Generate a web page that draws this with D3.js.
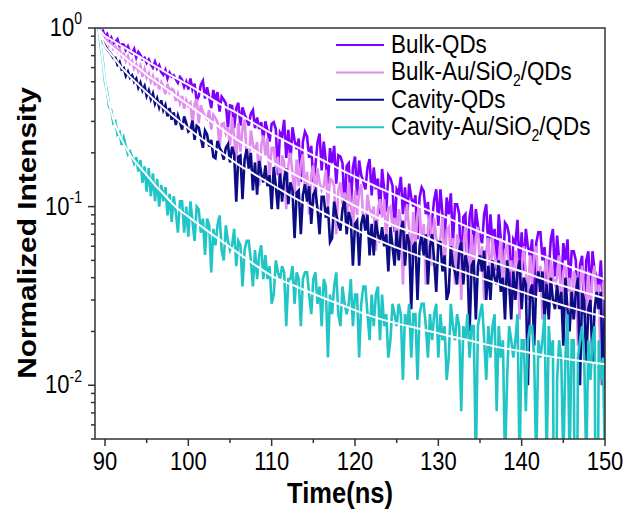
<!DOCTYPE html>
<html>
<head>
<meta charset="utf-8">
<script src="https://cdn.jsdelivr.net/npm/d3@7"></script>
<style>
  body { margin: 0; background: #fff; }
  svg text { font-family: "Liberation Sans", Arial, sans-serif; fill: #000; }
</style>
</head>
<body>
<svg id="chart" width="628" height="509"></svg>
<script>
// ---- series definitions ----
const seriesNames = ["Bulk-QDs", "Bulk-Au/SiO2/QDs", "Cavity-QDs", "Cavity-Au/SiO2/QDs"];
const seriesColors = ["#8000ff", "#e08cf0", "#0c0c86", "#22c5c5"];

// TCSPC histograms: photon counts per 0.25 ns bin, first bin at 89.25 ns
const startTime = 89.25;
const binWidth = 0.25;

const bulkQDsCounts = [
  320,302,309,286, 296,271,283,262, 268,277,252,259, 258,241,253,236, 231,244,219,235,
  226,214,218,204, 213,200,192,207, 190,198,181,175, 186,167,180,171, 174,165,158,170,
  164,150,160,145,
  167,145,156,125, 133,154,162,129, 149,131,114,144, 125,140,109,132, 127,121,89,118,
  117,88,114,122, 91,115,105,99, 91,106,111,88, 101,87,95,76, 96,85,74,93,
  95,87,48,83, 79,98,60,86, 57,89,75,67, 77,44,74,84, 79,60,70,44,
  54,73,82,51, 74,57,43,68, 56,70,43,62, 61,56,31,54, 56,32,53,61,
  37,58,48,44, 40,53,59,37, 53,40,46,29, 52,40,30,48, 46,42,23,40,
  38,47,29,41, 27,43,36,32, 37,21,36,41, 39,29,34,22, 27,35,40,25,
  40,29,20,36, 29,38,20,33, 33,29,13,28, 29,14,28,33, 18,31,25,22,
  20,29,33,18, 29,20,24,14, 29,21,14,26, 25,22,10,21, 20,27,14,23,
  14,24,19,17, 21,10,20,23, 23,16,19,11, 14,21,24,13, 22,16,11,20,
  16,21,11,18, 18,16,7,15, 17,8,16,18, 10,18,14,13, 11,16,9,3
];

const bulkAuCounts = [
  300,281,268,251, 262,240,249,229, 236,221,229,208, 215,196,208,190, 197,178,188,172,
  184,160,176,158, 167,150,161,143, 158,136,149,141, 128,146,131,137, 134,117,128,114,
  125,106,118,110,
  114,87,112,120, 88,111,101,96, 93,104,81,98, 94,89,65,87, 88,77,83,66,
  95,73,55,88, 61,82,92,58, 51,80,67,61, 69,39,66,75, 58,72,44,64,
  64,49,57,36, 58,53,29,51, 60,46,35,55, 39,52,59,37, 47,27,45,51,
  31,49,41,37, 39,48,30,43, 42,39,21,37, 41,31,36,23, 41,31,23,37,
  27,36,40,25, 22,35,29,27, 30,17,29,33, 26,33,20,29, 30,23,26,17,
  29,25,11,24, 31,22,15,28, 18,27,31,17, 24,11,23,27, 14,26,20,18,
  20,26,14,22, 23,16,20,11, 21,19,9,18, 23,16,11,21, 14,20,23,13,
  18,9,17,20, 11,20,16,14, 15,20,11,17, 18,13,15,9, 17,15,7,14,
  18,13,9,16, 11,16,18,10, 14,7,13,16, 9,15,12,11, 12,16,8,13,
  14,10,12,7, 13,12,5,11, 14,10,7,13, 8,12,14,8, 11,3,11,12
];

const cavityQDsCounts = [
  300,262,251,240, 229,221,214,204, 204,187,194,176, 179,162,171,158, 163,150,156,139,
  148,134,142,125, 134,120,129,113, 121,108,118,104, 111,96,107,92, 101,86,97,89,
  81,96,88,79,
  81,91,71,85, 83,73,64,80, 76,65,71,57, 56,70,64,61, 55,64,67,53,
  65,59,32,57, 58,33,55,63, 49,60,37,53, 35,54,46,41, 51,39,45,29,
  50,39,29,46, 32,43,49,31, 41,37,20,36, 37,21,35,40, 32,39,24,35,
  37,29,21,34, 34,26,30,19, 20,32,27,24, 22,29,33,21, 28,25,14,24,
  25,14,24,27, 22,27,16,24, 16,25,21,19, 23,18,21,13, 23,18,14,22,
  15,22,25,14, 21,19,8,18, 19,9,18,21, 16,21,11,18, 21,15,10,19,
  19,13,16,9, 10,18,14,13, 11,17,19,11, 16,14,6,14, 15,7,14,16,
  13,17,9,14, 9,15,12,11, 15,10,12,7, 15,11,7,13, 9,13,15,8,
  12,11,3,10, 11,5,11,13, 10,13,7,11, 7,12,9,8, 11,8,10,5,
  12,8,6,10, 7,10,12,3, 10,9,4,8, 9,4,8,10, 8,10,3,9
];

const cavityAuCounts = [
  280,219,181,139, 124,101,97,82, 84,71,73,62, 68,61,55,57, 53,49,53,44,
  51,38,47,34, 46,32,43,30, 40,28,37,30, 36,25,33,23, 32,26,20,30,
  30,20,28,19,
  30,23,18,28, 27,20,24,15, 24,22,12,21, 17,22,25,16, 14,22,18,16,
  17,21,13,18, 17,10,16,18, 18,14,10,16, 11,15,17,11, 15,11,13,8,
  9,14,12,11, 13,12,6,11, 11,13,8,12, 11,6,11,12, 12,9,7,11,
  12,8,10,6, 11,10,4,9, 7,10,12,7, 6,10,8,7, 8,11,6,9,
  9,4,8,10, 10,7,5,9, 6,9,10,5, 9,6,7,4, 5,8,7,6,
  8,7,3,7, 6,8,4,7, 7,3,7,8, 8,6,4,7, 5,7,8,4,
  7,5,6,3, 4,8,6,5, 7,6,2,6, 5,7,4,6, 6,1,6,7,
  8,5,3,6, 4,6,7,2, 6,4,5,1, 3,6,5,4, 5,7,1,5,
  5,2,5,6, 6,4,1,5, 4,5,7,1, 6,4,5,0, 3,5,4,1,
  4,7,1,5, 5,0,4,5, 6,4,1,5, 3,5,6,0, 5,3,4,1
];

// Multi-exponential fits, normalized intensity at the fit sample times (ns)
const fitTime = [89.25, 89.5, 89.75, 90, 90.5, 91, 91.5, 92, 92.5, 93, 94, 95, 96, 97, 98, 99, 100,
  102, 104, 106, 108, 110, 113, 116, 119, 122, 125, 128, 131, 134, 137, 140, 143, 146, 150];
const bulkQDsFit = [0.985, 0.96, 0.93, 0.902, 0.874, 0.846, 0.819, 0.793, 0.768, 0.744, 0.698, 0.654,
  0.613, 0.576, 0.539, 0.509, 0.480, 0.422, 0.371, 0.331, 0.291, 0.256, 0.216, 0.183, 0.155, 0.133,
  0.115, 0.0987, 0.0868, 0.0754, 0.0663, 0.0582, 0.0519, 0.0456, 0.0391];
const bulkAuFit = [0.962, 0.92, 0.88, 0.846, 0.808, 0.773, 0.739, 0.707, 0.676, 0.646, 0.598, 0.546,
  0.506, 0.468, 0.433, 0.401, 0.371, 0.318, 0.273, 0.234, 0.206, 0.178, 0.149, 0.126, 0.107, 0.0902,
  0.0773, 0.0689, 0.0598, 0.0532, 0.0480, 0.0433, 0.0386, 0.0348, 0.0306];
const cavityQDsFit = [0.962, 0.90, 0.84, 0.789, 0.737, 0.688, 0.642, 0.599, 0.566, 0.534, 0.482, 0.435,
  0.394, 0.358, 0.326, 0.299, 0.274, 0.232, 0.200, 0.172, 0.151, 0.133, 0.110, 0.0932, 0.0789, 0.0672,
  0.0589, 0.0522, 0.0464, 0.0415, 0.0372, 0.0333, 0.0299, 0.0271, 0.0240];
const cavityAuFit = [0.987, 0.793, 0.637, 0.512, 0.376, 0.308, 0.266, 0.237, 0.214, 0.195, 0.170, 0.150,
  0.132, 0.118, 0.105, 0.0950, 0.0879, 0.0748, 0.0641, 0.0549, 0.0471, 0.0410, 0.0356, 0.0311, 0.0274,
  0.0243, 0.0222, 0.0206, 0.0190, 0.0177, 0.0164, 0.0155, 0.0146, 0.0139, 0.0131];

// Axis ticks
const xTicks = [90, 100, 110, 120, 130, 140, 150];
const xMinorTicks = [95, 105, 115, 125, 135, 145];
const yTickExponents = [0, -1, -2];
const xDomain = [88.8, 150];
const yDomain = [0.005, 1];

// ---- drawing ----
const svg = d3.select("#chart");
const plot = { left: 95, right: 605, top: 28, bottom: 439 };
const stretch = 1.17; // vertical stretch of the lettering

const x = d3.scaleLinear().domain(xDomain).range([plot.left, plot.right]);
const y = d3.scaleLog().domain(yDomain).range([plot.bottom, plot.top]);

svg.append("defs").append("clipPath").attr("id", "plotClip")
  .append("rect")
  .attr("x", plot.left).attr("y", plot.top)
  .attr("width", plot.right - plot.left).attr("height", plot.bottom - plot.top);

const countSets = [bulkQDsCounts, bulkAuCounts, cavityQDsCounts, cavityAuCounts];
const fitSets = [bulkQDsFit, bulkAuFit, cavityQDsFit, cavityAuFit];

const dataLayer = svg.append("g").attr("clip-path", "url(#plotClip)");
const floor = 1e-4; // empty bins fall below the axis

const line = d3.line()
  .x(d => x(d.t))
  .y(d => y(Math.max(d.v, floor)));

countSets.forEach((counts, i) => {
  const peak = d3.max(counts);
  const pts = counts.map((c, k) => ({ t: startTime + k * binWidth, v: c / peak }));
  dataLayer.append("path")
    .datum(pts)
    .attr("fill", "none")
    .attr("stroke", seriesColors[i])
    .attr("stroke-width", 2.6)
    .attr("stroke-linejoin", "miter")
    .attr("d", line);
});

const fitLine = d3.line()
  .x(d => x(d.t))
  .y(d => y(d.v))
  .curve(d3.curveMonotoneX);

fitSets.forEach(fit => {
  const pts = fit.map((v, k) => ({ t: fitTime[k], v }));
  dataLayer.append("path")
    .datum(pts)
    .attr("fill", "none")
    .attr("stroke", "#ffffff")
    .attr("stroke-width", 2)
    .attr("d", fitLine);
});

// frame
const axisColor = "#333";
const frame = svg.append("g").attr("stroke", axisColor).attr("stroke-width", 1.5).attr("fill", "none");
frame.append("rect")
  .attr("x", plot.left).attr("y", plot.top)
  .attr("width", plot.right - plot.left).attr("height", plot.bottom - plot.top);

// x ticks
xTicks.forEach(t => {
  frame.append("line").attr("x1", x(t)).attr("x2", x(t)).attr("y1", plot.bottom).attr("y2", plot.bottom + 7);
});
xMinorTicks.forEach(t => {
  frame.append("line").attr("x1", x(t)).attr("x2", x(t)).attr("y1", plot.bottom).attr("y2", plot.bottom + 4);
});

// y ticks (decades + minor)
const yMajor = yTickExponents.map(e => Math.pow(10, e));
const yMinor = [];
[-3, -2, -1].forEach(e => {
  for (let m = 2; m <= 9; m++) {
    const v = m * Math.pow(10, e);
    if (v >= yDomain[0] - 1e-12 && v < yDomain[1]) yMinor.push(v);
  }
});
yMajor.forEach(v => {
  frame.append("line").attr("x1", plot.left - 7).attr("x2", plot.left).attr("y1", y(v)).attr("y2", y(v));
});
yMinor.forEach(v => {
  frame.append("line").attr("x1", plot.left - 4).attr("x2", plot.left).attr("y1", y(v)).attr("y2", y(v));
});

// text helper with vertical stretch
function stretchedText(px, py) {
  return svg.append("g").attr("transform", `translate(${px},${py}) scale(1,${stretch})`).append("text");
}

xTicks.forEach(t => {
  stretchedText(x(t), 470).attr("text-anchor", "middle").attr("font-size", 22).text(t);
});

yTickExponents.forEach(e => {
  const txt = stretchedText(82, y(Math.pow(10, e)) + 8)
    .attr("text-anchor", "end").attr("font-size", 22);
  txt.append("tspan").text("10");
  txt.append("tspan").attr("font-size", 14).attr("dy", -10).text(String(e));
});

// axis titles
stretchedText(340, 503).attr("text-anchor", "middle").attr("font-size", 25.5)
  .attr("font-weight", "bold").text("Time(ns)");

svg.append("g").attr("transform", `translate(36,233) scale(1,${stretch}) rotate(-90)`)
  .append("text").attr("text-anchor", "middle").attr("font-size", 25.5)
  .attr("font-weight", "bold").text("Normalized Intensity");

// legend
const legendTop = 45, legendStep = 27.4;
seriesNames.forEach((name, i) => {
  const ly = legendTop + i * legendStep;
  svg.append("line")
    .attr("x1", 336).attr("x2", 384).attr("y1", ly).attr("y2", ly)
    .attr("stroke", seriesColors[i]).attr("stroke-width", 2);
  const txt = stretchedText(391, ly + 8).attr("font-size", 22.4);
  const parts = name.split("SiO2");
  if (parts.length === 2) {
    txt.append("tspan").text(parts[0] + "SiO");
    txt.append("tspan").attr("font-size", 14).attr("dy", 5).text("2");
    txt.append("tspan").attr("dy", -5).text(parts[1]);
  } else {
    txt.append("tspan").text(name);
  }
});
</script>
</body>
</html>
